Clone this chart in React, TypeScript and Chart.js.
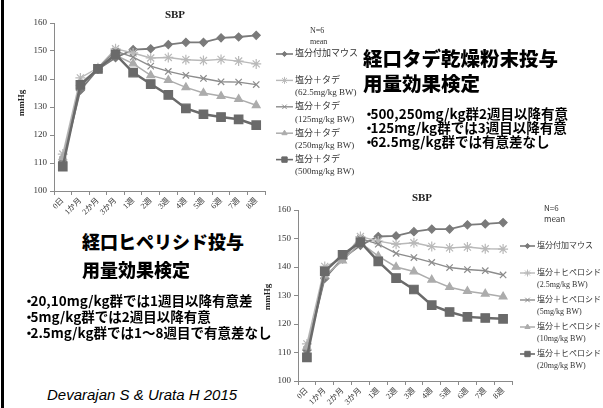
import React, { useEffect, useRef } from 'react';
import { Chart, registerables } from 'chart.js';
import { drawPoint } from 'chart.js/helpers';

Chart.register(...registerables);

// ---- data ----
const timeLabels = ['0日', '1か月', '2か月', '3か月', '1週', '2週', '3週', '4週', '5週', '6週', '7週', '8週'];
const yTicks = { min: 100, max: 160, step: 10 };

// 経口タデ乾燥粉末 (SBP, mmHg)
const tadeSalt = [110.5, 136.0, 143.5, 147.6, 150.5, 150.8, 152.3, 153.1, 153.1, 154.7, 155.0, 155.6];
const tade62 = [113.2, 140.4, 144.0, 150.8, 149.3, 147.5, 147.7, 146.9, 146.6, 147.0, 146.4, 145.4];
const tade125 = [111.2, 137.0, 144.0, 150.0, 147.8, 144.6, 142.7, 141.3, 140.2, 139.0, 138.9, 138.0];
const tade250 = [112.0, 138.5, 143.5, 148.5, 145.5, 141.3, 139.6, 137.0, 135.0, 133.9, 132.8, 130.6];
const tade500 = [108.7, 137.9, 143.6, 148.8, 142.3, 138.2, 134.3, 129.5, 127.4, 126.4, 125.6, 123.5];
const tadeLegend = [
  ['塩分付加マウス'],
  ['塩分＋タデ', '(62.5mg/kg BW)'],
  ['塩分＋タデ', '(125mg/kg BW)'],
  ['塩分＋タデ', '(250mg/kg BW)'],
  ['塩分＋タデ', '(500mg/kg BW)'],
];

// 経口ヒペロシド (SBP, mmHg)
const hypSalt = [110.8, 136.0, 143.0, 147.6, 150.7, 150.9, 152.4, 153.3, 153.3, 154.8, 155.1, 155.6];
const hyp2_5 = [113.0, 140.2, 142.8, 150.7, 149.1, 148.0, 148.5, 147.2, 146.7, 147.0, 146.4, 146.3];
const hyp5 = [111.0, 136.5, 143.0, 150.0, 148.0, 144.8, 143.3, 141.6, 139.8, 139.1, 138.7, 137.2];
const hyp10 = [112.0, 137.0, 142.2, 148.5, 143.8, 140.0, 138.4, 135.5, 132.9, 131.5, 130.6, 129.6];
const hyp20 = [108.3, 138.5, 144.3, 148.7, 142.0, 136.1, 132.1, 126.6, 124.2, 122.5, 122.1, 121.8];
const hypLegend = [
  ['塩分付加マウス'],
  ['塩分＋ヒペロシド', '(2.5mg/kg BW)'],
  ['塩分＋ヒペロシド', '(5mg/kg BW)'],
  ['塩分＋ヒペロシド', '(10mg/kg BW)'],
  ['塩分＋ヒペロシド', '(20mg/kg BW)'],
];

const chartTitle = 'SBP';
const yAxisTitle = 'mmHg';
const noteLines = ['N=6', 'mean'];

// slide texts
const tadeHeading = ['経口タデ乾燥粉末投与', '用量効果検定'];
const tadeNotes = ['500,250mg/kg群2週目以降有意', '125mg/kg群では3週目以降有意', '62.5mg/kg群では有意差なし'];
const hypHeading = ['経口ヒペリシド投与', '用量効果検定'];
const hypNotes = ['20,10mg/kg群では1週目以降有意差', '5mg/kg群では2週目以降有意', '2.5mg/kg群では1～8週目で有意差なし'];
const citation = 'Devarajan S & Urata H 2015';

// ---- styles ----
type SeriesStyle = { color: string; pointStyle: string; radius: number; width: number; legendRadius: number };
const seriesStyles: SeriesStyle[] = [
  { color: '#7a7a7a', pointStyle: 'rectRot', radius: 4, width: 1.8, legendRadius: 2.6 },
  { color: '#b9b9b9', pointStyle: 'star', radius: 5, width: 1.4, legendRadius: 3.5 },
  { color: '#8c8c8c', pointStyle: 'crossRot', radius: 4.5, width: 1.4, legendRadius: 3.2 },
  { color: '#acacac', pointStyle: 'triangle', radius: 4.5, width: 1.5, legendRadius: 3 },
  { color: '#6a6a6a', pointStyle: 'rect', radius: 6, width: 2.5, legendRadius: 3.8 },
];

const SERIF = '"Liberation Serif", "DejaVu Serif", "Noto Sans CJK JP", serif';
const GOTHIC = '"Noto Sans CJK JP", "Noto Sans", sans-serif';
const AXIS_COLOR = '#8a8a8a';
const TEXT_COLOR = '#333333';

type Layout = {
  width: number;
  height: number;
  area: { left: number; top: number; right: number; bottom: number };
  title: { x: number; y: number };
  yTitle: { x: number; y: number };
  note: { x: number; y: number; gap: number; font: string };
  legend: { lineX0: number; lineX1: number; textX: number; y: number; step: number; lineGap: number; font: string };
  tickFont: number;
  xTickFont: number;
};

type PanelProps = { series: number[][]; legend: string[][]; layout: Layout; left: number; top: number };

function SbpPanel({ series, legend, layout, left, top }: PanelProps) {
  const ref = useRef<HTMLCanvasElement | null>(null);

  useEffect(() => {
    const canvas = ref.current;
    if (!canvas) return;
    const L = layout;

    const decor = {
      id: 'sbpDecor',
      afterDraw(chart: any) {
        const ctx = chart.ctx as CanvasRenderingContext2D;
        ctx.save();
        // title
        ctx.fillStyle = '#222';
        ctx.font = `bold 11px ${SERIF}`;
        ctx.textAlign = 'center';
        ctx.textBaseline = 'middle';
        ctx.fillText(chartTitle, L.title.x, L.title.y);
        // y axis title
        ctx.save();
        ctx.translate(L.yTitle.x, L.yTitle.y);
        ctx.rotate(-Math.PI / 2);
        ctx.font = `bold 9px ${SERIF}`;
        ctx.fillText(yAxisTitle, 0, 0);
        ctx.restore();
        // N / mean note
        ctx.font = L.note.font;
        ctx.textAlign = 'left';
        ctx.fillStyle = TEXT_COLOR;
        noteLines.forEach((t, i) => ctx.fillText(t, L.note.x, L.note.y + i * L.note.gap));
        // legend
        chart.data.datasets.forEach((ds: any, i: number) => {
          const st = seriesStyles[i];
          const y = L.legend.y + i * L.legend.step;
          ctx.strokeStyle = st.color;
          ctx.fillStyle = st.color;
          ctx.lineWidth = Math.min(st.width, 1.6);
          ctx.beginPath();
          ctx.moveTo(L.legend.lineX0, y);
          ctx.lineTo(L.legend.lineX1, y);
          ctx.stroke();
          ctx.lineWidth = 1;
          drawPoint(ctx, { pointStyle: st.pointStyle as any, radius: st.legendRadius, rotation: 0, borderWidth: 1 }, (L.legend.lineX0 + L.legend.lineX1) / 2, y);
          ctx.fillStyle = TEXT_COLOR;
          ctx.font = L.legend.font;
          ctx.textAlign = 'left';
          ctx.textBaseline = 'middle';
          legend[i].forEach((line, k) => ctx.fillText(line, L.legend.textX, y + k * L.legend.lineGap));
        });
        ctx.restore();
      },
    };

    const chart = new Chart(canvas, {
      type: 'line',
      data: {
        labels: timeLabels,
        datasets: series.map((d, i) => ({
          label: legend[i].join(' '),
          data: d,
          borderColor: seriesStyles[i].color,
          backgroundColor: seriesStyles[i].color,
          borderWidth: seriesStyles[i].width,
          pointStyle: seriesStyles[i].pointStyle as any,
          pointRadius: seriesStyles[i].radius,
          pointBorderWidth: 1.2,
          pointBorderColor: seriesStyles[i].color,
          pointBackgroundColor: seriesStyles[i].color,
          tension: 0,
          order: series.length - 1 - i,
        })),
      },
      options: {
        animation: false,
        responsive: false,
        maintainAspectRatio: false,
        events: [],
        layout: { padding: { left: 0, top: L.area.top, right: L.width - L.area.right, bottom: 0 } },
        plugins: { legend: { display: false }, title: { display: false }, tooltip: { enabled: false } },
        scales: {
          x: {
            offset: true,
            grid: { offset: true, drawOnChartArea: false, drawTicks: true, tickLength: 4, color: AXIS_COLOR },
            border: { display: true, color: AXIS_COLOR, width: 1 },
            ticks: { minRotation: 45, maxRotation: 45, autoSkip: false, padding: 1, color: TEXT_COLOR, font: { family: SERIF, size: L.xTickFont } },
            afterFit: (s: any) => { s.height = L.height - L.area.bottom; },
          },
          y: {
            min: yTicks.min,
            max: yTicks.max,
            grid: { drawOnChartArea: false, drawTicks: true, tickLength: 4, color: AXIS_COLOR },
            border: { display: true, color: AXIS_COLOR, width: 1 },
            ticks: { stepSize: yTicks.step, padding: 3, color: TEXT_COLOR, font: { family: SERIF, size: L.tickFont } },
            afterFit: (s: any) => { s.width = L.area.left; },
          },
        },
      },
      plugins: [decor],
    });
    return () => chart.destroy();
  }, [series, legend, layout]);

  return (
    <canvas
      ref={ref}
      width={layout.width}
      height={layout.height}
      style={{ position: 'absolute', left, top, width: layout.width, height: layout.height }}
    />
  );
}

const tadeLayout: Layout = {
  width: 370,
  height: 224,
  area: { left: 54, top: 23, right: 265, bottom: 191 },
  title: { x: 175, y: 15 },
  yTitle: { x: 22, y: 103 },
  note: { x: 310, y: 31, gap: 11, font: `8px ${SERIF}` },
  legend: { lineX0: 276, lineX1: 293, textX: 295, y: 54, step: 26.4, lineGap: 12.5, font: `9px ${SERIF}` },
  tickFont: 9,
  xTickFont: 8,
};

const hypLayout: Layout = {
  width: 348,
  height: 223,
  area: { left: 43, top: 25, right: 257, bottom: 196 },
  title: { x: 167, y: 13 },
  yTitle: { x: 13, y: 112 },
  note: { x: 289, y: 23, gap: 10.5, font: `8px ${GOTHIC}` },
  legend: { lineX0: 265, lineX1: 280, textX: 282, y: 61, step: 27, lineGap: 12, font: `8px ${SERIF}` },
  tickFont: 9,
  xTickFont: 8,
};

const tadeSeries = [tadeSalt, tade62, tade125, tade250, tade500];
const hypSeries = [hypSalt, hyp2_5, hyp5, hyp10, hyp20];

function Text({ x, yc, size, lh, children, style }: any) {
  return (
    <div
      style={{
        position: 'absolute',
        left: x,
        top: yc - lh / 2,
        fontSize: size,
        lineHeight: `${lh}px`,
        whiteSpace: 'nowrap',
        color: '#000',
        fontFamily: GOTHIC,
        ...style,
      }}
    >
      {children}
    </div>
  );
}

function Bullet({ text }: { text: string }) {
  return (
    <>
      <span style={{ marginRight: '-0.4em', marginLeft: '-0.2em' }}>・</span>
      {text}
    </>
  );
}

export default function App() {
  const heading = { fontWeight: 900 };
  const note = { fontWeight: 700 };
  return (
    <div
      style={{
        position: 'fixed',
        left: 0,
        top: 0,
        width: 603,
        height: 408,
        background: '#fff',
        overflow: 'hidden',
      }}
    >
      <div style={{ position: 'absolute', left: 1, top: 0, width: 3, height: 408, background: '#000' }} />
      <SbpPanel series={tadeSeries} legend={tadeLegend} layout={tadeLayout} left={0} top={0} />
      <SbpPanel series={hypSeries} legend={hypLegend} layout={hypLayout} left={255} top={185} />

      <Text x={363} yc={58} size={19.5} lh={24} style={heading}>{tadeHeading[0]}</Text>
      <Text x={363} yc={83} size={19.5} lh={24} style={heading}>{tadeHeading[1]}</Text>
      {tadeNotes.map((t, i) => (
        <Text key={t} x={365} yc={112.5 + i * 14.3} size={13.5} lh={16} style={note}><Bullet text={t} /></Text>
      ))}

      <Text x={82} yc={240.5} size={18} lh={24} style={heading}>{hypHeading[0]}</Text>
      <Text x={82} yc={269} size={18} lh={24} style={heading}>{hypHeading[1]}</Text>
      {hypNotes.map((t, i) => (
        <Text key={t} x={25} yc={300 + i * 15.8} size={13.5} lh={16} style={note}><Bullet text={t} /></Text>
      ))}

      <Text x={47} yc={395} size={15} lh={18} style={{ fontFamily: '"Liberation Sans", Arial, sans-serif', fontStyle: 'italic' }}>
        {citation}
      </Text>
    </div>
  );
}
